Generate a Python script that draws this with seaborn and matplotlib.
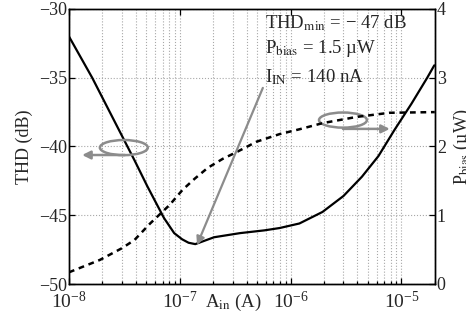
import matplotlib
matplotlib.use("Agg")
import matplotlib.pyplot as plt
from matplotlib.patches import Ellipse
import seaborn as sns

# input current A_in (A) and THD (dB), solid curve
thd_x = [1.0e-8, 1.62e-8, 3.9e-8, 5.1e-8, 7.2e-8, 8.9e-8, 1.05e-7, 1.2e-7,
         1.38e-7, 2.04e-7, 3.5e-7, 5.8e-7, 7.96e-7, 1.2e-6, 1.94e-6, 3.0e-6,
         4.4e-6, 6.2e-6, 8.65e-6, 1.23e-5, 1.71e-5, 1.98e-5]
thd_db = [-32.0, -35.0, -41.0, -42.9, -45.2, -46.3, -46.75, -47.0,
          -47.1, -46.6, -46.3, -46.1, -45.93, -45.6, -44.76, -43.6,
          -42.2, -40.7, -38.8, -36.9, -35.0, -34.1]

# bias power (uW), dashed curve
pb_x = [1.0e-8, 1.9e-8, 3.0e-8, 3.9e-8, 5.4e-8, 8.1e-8, 1.06e-7, 1.36e-7,
        1.79e-7, 2.44e-7, 3.27e-7, 4.94e-7, 7.96e-7, 1.2e-6, 1.95e-6,
        3.95e-6, 7.8e-6, 2.0e-5]
pb_uw = [0.17, 0.35, 0.52, 0.64, 0.88, 1.15, 1.37, 1.53,
         1.69, 1.82, 1.92, 2.07, 2.18, 2.25, 2.34,
         2.43, 2.49, 2.50]

sns.set_style("ticks")
plt.rcParams["font.family"] = ["Liberation Serif", "DejaVu Serif"]
plt.rcParams["mathtext.fontset"] = "stix"
plt.rcParams["font.size"] = 13

gray = "#8c8c8c"

fig = plt.figure(figsize=(4.66, 3.2), dpi=100)
ax = fig.add_axes([0.148, 0.1125, 0.785, 0.8595])
ax2 = ax.twinx()

sns.lineplot(x=thd_x, y=thd_db, ax=ax, color="black", lw=1.6)
sns.lineplot(x=pb_x, y=pb_uw, ax=ax2, color="black", lw=1.8,
             linestyle=(0, (2.3, 1.9)))

ax.set_xscale("log")
ax.set_xlim(1e-8, 2e-5)
ax.set_ylim(-50, -30)
ax.set_yticks([-50, -45, -40, -35, -30])
ax2.set_ylim(0, 4)
ax2.set_yticks([0, 1, 2, 3, 4])

ax.grid(which="major", axis="both", ls=":", color="#a8a8a8", lw=0.8)
ax.grid(which="minor", axis="x", ls=":", color="#a8a8a8", lw=0.8)

for a in (ax, ax2):
    a.tick_params(which="both", direction="in", labelsize=13, pad=1.5,
                  width=0.9, color="black")
    a.tick_params(which="major", length=4)
    a.tick_params(which="minor", length=2)
    for s in a.spines.values():
        s.set_linewidth(1.0)
        s.set_color("black")
ax.tick_params(top=True)
ax.tick_params(axis="x", labelsize=14, pad=5)

ax.set_ylabel("THD (dB)", fontsize=13)
ax.yaxis.set_label_coords(-0.098, 0.5)
ax2.set_ylabel("P$_{\\rm bias}$ (µW)", fontsize=13)
ax2.yaxis.set_label_coords(1.046, 0.5)
ax.set_xlabel("A$_{\\rm in}$ (A)", fontsize=13.5, va="baseline")
ax.xaxis.set_label_coords(0.45, -0.084)

# annotation text
ax.text(0.536, 0.931, "THD$_{\\rm min}$ = − 47 dB", transform=ax.transAxes,
        fontsize=13.5, va="baseline")
ax.text(0.536, 0.840, "P$_{\\rm bias}$ = 1.5 µW", transform=ax.transAxes,
        fontsize=13.5, va="baseline")
ax.text(0.536, 0.735, "I$_{\\rm IN}$ = 140 nA", transform=ax.transAxes,
        fontsize=13.5, va="baseline")

ax2.annotate("", xy=(0.350, 0.142), xytext=(0.530, 0.713),
             xycoords="axes fraction", textcoords="axes fraction",
             arrowprops=dict(arrowstyle="-|>", color=gray, lw=1.6,
                             mutation_scale=12, shrinkA=0, shrinkB=0))

# ellipses marking which axis each curve belongs to
for cx, cy in [(0.150, 0.496), (0.749, 0.596)]:
    ax2.add_patch(Ellipse((cx, cy), 0.131, 0.055, transform=ax.transAxes,
                          fill=False, ec=gray, lw=1.8))
ax2.annotate("", xy=(0.036, 0.469), xytext=(0.153, 0.469),
             xycoords="axes fraction", textcoords="axes fraction",
             arrowprops=dict(arrowstyle="-|>", color=gray, lw=1.8,
                             mutation_scale=12, shrinkA=0, shrinkB=0))
ax2.annotate("", xy=(0.877, 0.564), xytext=(0.749, 0.564),
             xycoords="axes fraction", textcoords="axes fraction",
             arrowprops=dict(arrowstyle="-|>", color=gray, lw=1.8,
                             mutation_scale=12, shrinkA=0, shrinkB=0))

fig.savefig("out.png", dpi=100)
